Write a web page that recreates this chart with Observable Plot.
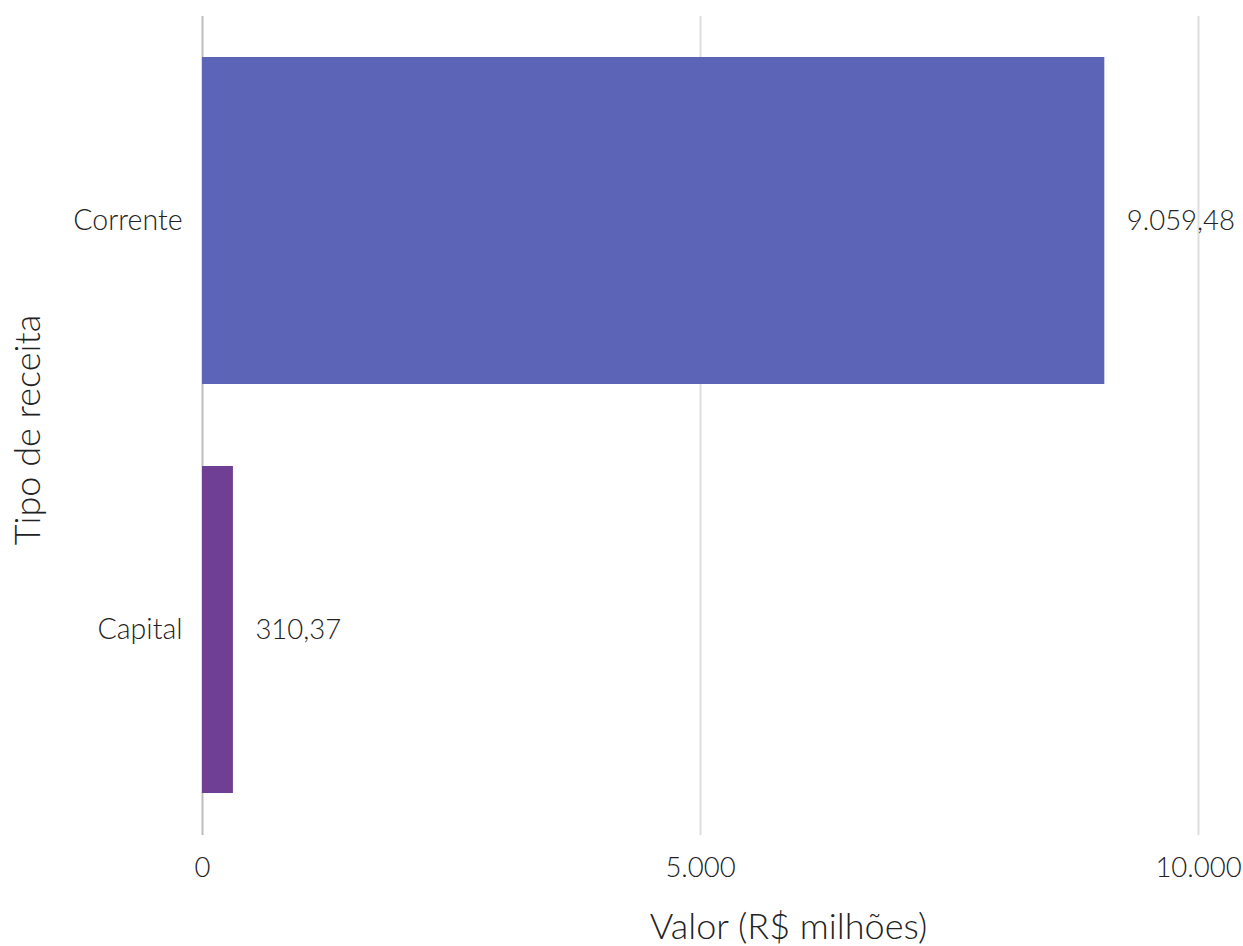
<!DOCTYPE html>
<html>
<head>
<meta charset="utf-8">
<script src="https://cdn.jsdelivr.net/npm/d3@7"></script>
<script src="https://cdn.jsdelivr.net/npm/@observablehq/plot@0.6"></script>
<style>
  html, body { margin: 0; padding: 0; background: #fff; }
  svg { font-family: Lato, "Open Sans", sans-serif; font-weight: 300; }
</style>
</head>
<body>
<div id="chart"></div>
<script>
const categories = ["Corrente", "Capital"];
const values = [9059.48, 310.37];
const colors = ["#5C64B7", "#6F3F93"];
const xTicks = [0, 5000, 10000];
const xLabel = "Valor (R$ milhões)";
const yLabel = "Tipo de receita";

const data = categories.map((c, i) => ({tipo: c, valor: values[i], cor: colors[i]}));
const br = d3.formatLocale({decimal: ",", thousands: ".", grouping: [3], currency: ["R$", ""]});
const fmtTick = br.format(",d");
const fmtVal = br.format(",.2f");

const chart = Plot.plot({
  width: 1243,
  height: 946,
  marginLeft: 202,
  marginRight: 45,
  marginTop: 16,
  marginBottom: 111,
  style: {fontFamily: "Lato, 'Open Sans', sans-serif", fontWeight: 300},
  x: {domain: [0, 10000], label: null},
  y: {domain: categories, paddingInner: 0.2, paddingOuter: 0.1, label: null},
  marks: [
    Plot.ruleX(xTicks, {x: d => d, stroke: d => d === 0 ? "#BDBDBD" : "#DEDEDE", strokeWidth: 2}),
    Plot.barX(data, {y: "tipo", x: "valor", fill: "cor"}),
    Plot.text(data, {y: "tipo", x: "valor", text: d => fmtVal(d.valor), textAnchor: "start", dx: 22, fontSize: 27.5, fill: "#222"}),
    Plot.axisX({ticks: xTicks, tickFormat: fmtTick, tickSize: 0, tickPadding: 22, fontSize: 27.5, color: "#222", label: null}),
    Plot.axisY({tickSize: 0, tickPadding: 20, fontSize: 28.5, color: "#222", label: null}),
    Plot.text([xLabel], {frameAnchor: "bottom", text: d => d, lineAnchor: "middle", textAnchor: "middle", dx: 88, dy: 92, fontSize: 36, fill: "#222"}),
    Plot.text([yLabel], {frameAnchor: "left", text: d => d, lineAnchor: "middle", textAnchor: "middle", rotate: -90, dx: -174, dy: 4, fontSize: 36, fill: "#222"})
  ]
});
document.getElementById("chart").append(chart);
</script>
</body>
</html>
